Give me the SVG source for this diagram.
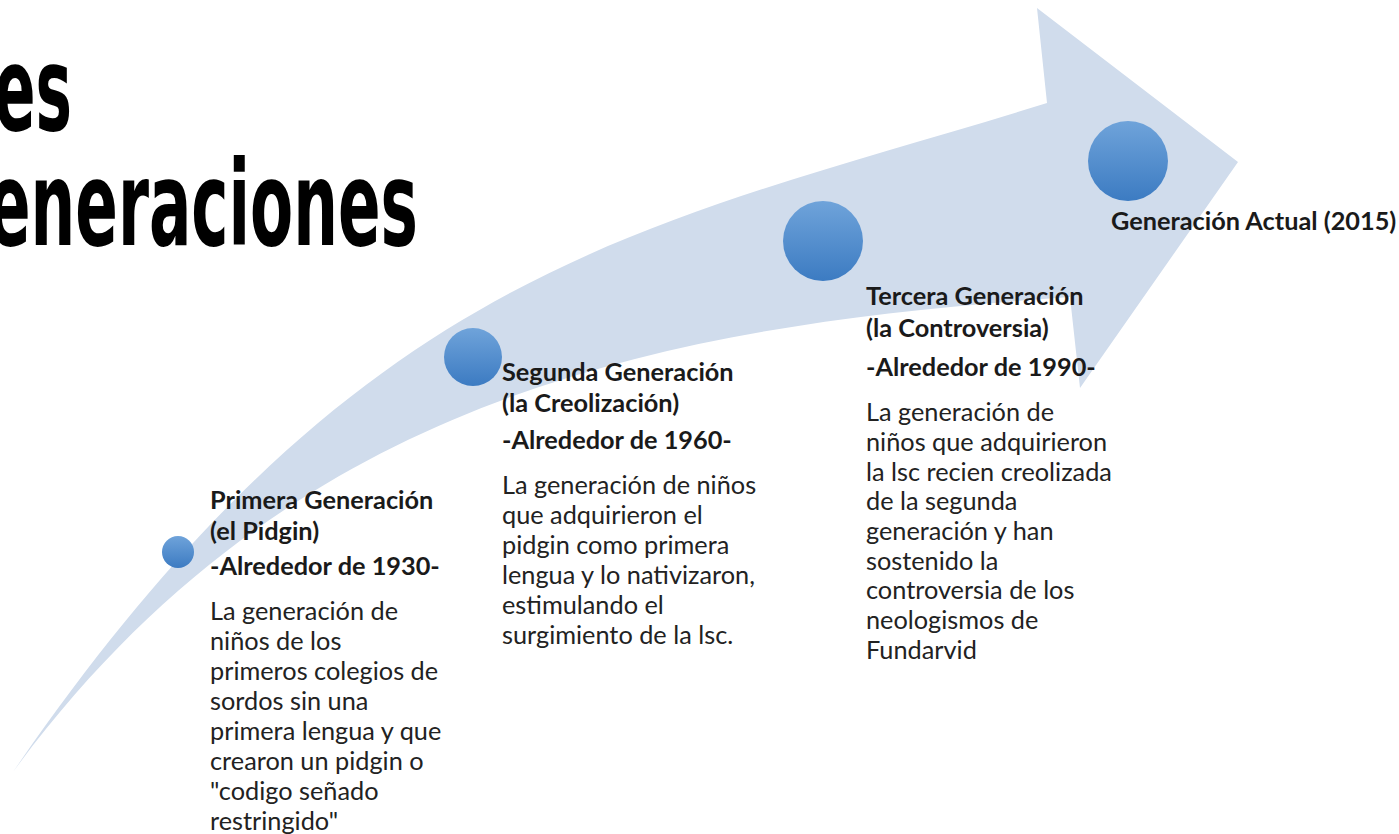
<svg xmlns="http://www.w3.org/2000/svg" width="1399" height="834" viewBox="0 0 1399 834">
<defs>
<linearGradient id="dot" x1="0" y1="0" x2="0" y2="1">
<stop offset="0" stop-color="#6FA3DA"/>
<stop offset="1" stop-color="#3C7BC2"/>
</linearGradient>
<style>
.title{font-family:"DejaVu Sans Condensed","Liberation Sans",sans-serif;font-weight:bold;font-size:118px;fill:#000}
.h{font-family:Lato,"Liberation Sans",sans-serif;font-weight:bold;font-size:25.3px;fill:#1a1a1a}
.b{font-family:Lato,"Liberation Sans",sans-serif;font-size:25.3px;fill:#222}
.dot{fill:url(#dot)}
</style>
</defs>
<rect width="1399" height="834" fill="#fff"/>
<g id="title">
<text class="title" x="-6" y="130" textLength="78" lengthAdjust="spacingAndGlyphs">es</text>
<text class="title" x="-12" y="245" textLength="430" lengthAdjust="spacingAndGlyphs">eneraciones</text>
</g>
<g id="connectors">
<path d="M13,772 C363,261 647,227 1047,103 L1037,8 L1238,162 L1080,388 L1070,297 C670,325 293,391 13,772 Z" fill="#D0DCEC"/>
</g>
<g id="gen1">
<circle class="dot" cx="178" cy="552" r="16"/>
<text class="h" x="210" y="509">Primera Generación</text>
<text class="h" x="210" y="540">(el Pidgin)</text>
<text class="h" x="210" y="575">-Alrededor de 1930-</text>
<text class="b" x="210" y="620">La generación de</text>
<text class="b" x="210" y="650">niños de los</text>
<text class="b" x="210" y="680">primeros colegios de</text>
<text class="b" x="210" y="710">sordos sin una</text>
<text class="b" x="210" y="740">primera lengua y que</text>
<text class="b" x="210" y="770">crearon un pidgin o</text>
<text class="b" x="210" y="800">"codigo señado</text>
<text class="b" x="210" y="830">restringido"</text>
</g>
<g id="gen2">
<circle class="dot" cx="473" cy="357" r="29"/>
<text class="h" x="502" y="381">Segunda Generación</text>
<text class="h" x="502" y="412">(la Creolización)</text>
<text class="h" x="502" y="449">-Alrededor de 1960-</text>
<text class="b" x="502" y="494">La generación de niños</text>
<text class="b" x="502" y="524">que adquirieron el</text>
<text class="b" x="502" y="554">pidgin como primera</text>
<text class="b" x="502" y="584">lengua y lo nativizaron,</text>
<text class="b" x="502" y="614">estimulando el</text>
<text class="b" x="502" y="644">surgimiento de la lsc.</text>
</g>
<g id="gen3">
<circle class="dot" cx="823" cy="241" r="40"/>
<text class="h" x="866" y="305">Tercera Generación</text>
<text class="h" x="866" y="337">(la Controversia)</text>
<text class="h" x="866" y="376">-Alrededor de 1990-</text>
<text class="b" x="866" y="421">La generación de</text>
<text class="b" x="866" y="451">niños que adquirieron</text>
<text class="b" x="866" y="481">la lsc recien creolizada</text>
<text class="b" x="866" y="510">de la segunda</text>
<text class="b" x="866" y="540">generación y han</text>
<text class="b" x="866" y="570">sostenido la</text>
<text class="b" x="866" y="599">controversia de los</text>
<text class="b" x="866" y="629">neologismos de</text>
<text class="b" x="866" y="659">Fundarvid</text>
</g>
<g id="gen4">
<circle class="dot" cx="1128" cy="161" r="40"/>
<text class="h" x="1111" y="230">Generación Actual (2015)</text>
</g>
</svg>
